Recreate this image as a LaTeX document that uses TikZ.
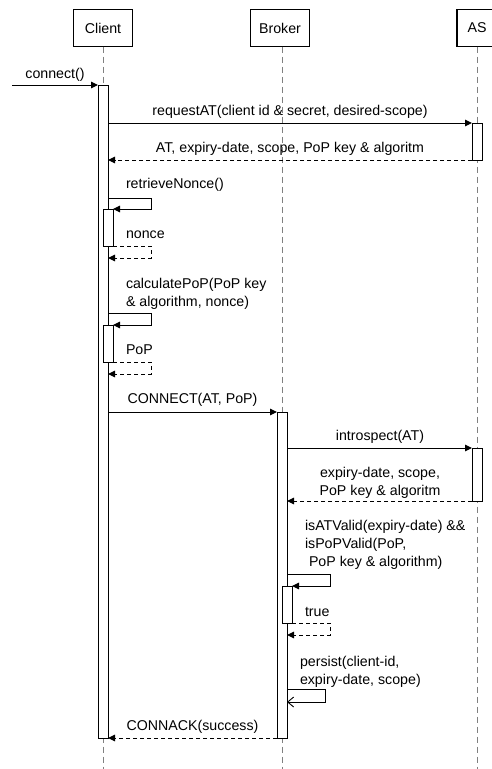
\documentclass[tikz,border=0pt]{standalone}
\usepackage{fontspec}
\setmainfont{Liberation Sans}
\usetikzlibrary{arrows.meta}
\definecolor{lifegray}{HTML}{808080}
\begin{document}
\begin{tikzpicture}[x=1pt,y=-1pt,
  every node/.style={font=\fontsize{14.2}{17.8}\selectfont, inner sep=0pt, outer sep=0pt},
  actor/.style={draw, line width=1.5pt, fill=white, minimum height=37pt},
  life/.style={draw=lifegray, line width=1pt, dash pattern=on 6pt off 4pt},
  bar/.style={draw, fill=white, line width=1pt, minimum width=10pt, anchor=north},
  msg/.style={-{Triangle[length=7pt,width=6.5pt]}, line width=1pt},
  ret/.style={msg, dash pattern=on 4pt off 3pt},
  selfmsg/.style={-{Straight Barb[length=6pt,width=10pt]}, line width=0.9pt},
  lbl/.style={anchor=center}
]
\useasboundingbox (0,0) rectangle (491,769);

% participants
\node[actor, minimum width=59pt] (client) at (103,28) {Client};
\node[actor, minimum width=59pt] (broker) at (280,28) {Broker};
\node[actor, minimum width=40pt] (as) at (477,28) {AS};

% lifelines
\coordinate (cend) at (103,769);
\coordinate (bend) at (282,769);
\coordinate (aend) at (477,769);
\draw[life] (client.south) -- (cend);
\draw[life] (broker.south -| bend) -- (bend);
\draw[life] (as.south) -- (aend);

% activation bars
\node[bar, minimum height=653pt] (cbar) at (103,85) {};
\node[bar, minimum height=326pt] (bbar) at (282,412) {};
\node[bar, minimum height=37pt]  (asb1) at (477,123) {};
\node[bar, minimum height=53pt]  (asb2) at (477,448) {};
\node[bar, minimum height=37pt]  (cn1) at (108,209) {};
\node[bar, minimum height=37pt]  (cn2) at (108,325) {};
\node[bar, minimum height=37pt]  (bn1) at (287,586) {};

% found message
\coordinate (src) at (12,85);
\draw[msg] (src) -- (cbar.north west);
\node[lbl] (lconnect) at (55,75) {connect()};

% token request to AS
\draw[msg] (cbar.east |- asb1.north) -- (asb1.north west);
\node[lbl] (lreq) at (290,112) {requestAT(client id \& secret, desired-scope)};
\draw[ret] (asb1.south west) -- (cbar.east |- asb1.south);
\node[lbl] (lat) at (290,149) {AT, expiry-date, scope, PoP key \& algoritm};

% nonce
\coordinate (n1a) at (151,198);
\coordinate (n1b) at (151,246);
\draw[msg] (cbar.east |- n1a) -- (n1a) -- (n1a |- cn1.north) -- (cn1.north east);
\node[anchor=west] (lnonce1) at (126,185) {retrieveNonce()};
\draw[ret] (cn1.south east) -- (n1b) -- (151,258) -- (cbar.east |- 0,258);
\node[anchor=west] (lnonce2) at (126,235) {nonce};

% proof of possession
\coordinate (n2a) at (151,313);
\coordinate (n2b) at (151,362);
\draw[msg] (cbar.east |- n2a) -- (n2a) -- (n2a |- cn2.north) -- (cn2.north east);
\node[anchor=west, align=left] (lpop1) at (126,294) {calculatePoP(PoP key\\\& algorithm, nonce)};
\draw[ret] (cn2.south east) -- (n2b) -- (151,374) -- (cbar.east |- 0,374);
\node[anchor=west] (lpop2) at (126,350) {PoP};

% connect to broker
\draw[msg] (cbar.east |- bbar.north) -- (bbar.north west);
\node[lbl] (lconn) at (192.5,400) {CONNECT(AT, PoP)};

% introspection
\draw[msg] (bbar.east |- asb2.north) -- (asb2.north west);
\node[lbl] (lintro) at (380,437) {introspect(AT)};
\draw[ret] (asb2.south west) -- (bbar.east |- asb2.south);
\node[lbl, align=center] (lexp) at (380,482.5) {expiry-date, scope,\\PoP key \& algoritm};

% validation
\coordinate (v1a) at (330,574);
\coordinate (v1b) at (330,623);
\draw[msg] (bbar.east |- v1a) -- (v1a) -- (v1a |- bn1.north) -- (bn1.north east);
\node[anchor=west, align=left] (lvalid) at (305,545) {isATValid(expiry-date) \&\&\\isPoPValid(PoP,\\\hspace*{4pt}PoP key \& algorithm)};
\draw[ret] (bn1.south east) -- (v1b) -- (330,635) -- (bbar.east |- 0,635);
\node[anchor=west] (ltrue) at (305,612) {true};

% persist
\coordinate (p1a) at (325,689);
\coordinate (p1b) at (325,702);
\draw[selfmsg] (bbar.east |- p1a) -- (p1a) -- (p1b) -- (bbar.east |- p1b);
\node[anchor=west, align=left] (lpersist) at (300,671.5) {persist(client-id,\\expiry-date, scope)};

% acknowledgement
\draw[ret] (bbar.south west) -- (cbar.south east);
\node[lbl] (lack) at (192.5,727) {CONNACK(success)};
\end{tikzpicture}
\end{document}
